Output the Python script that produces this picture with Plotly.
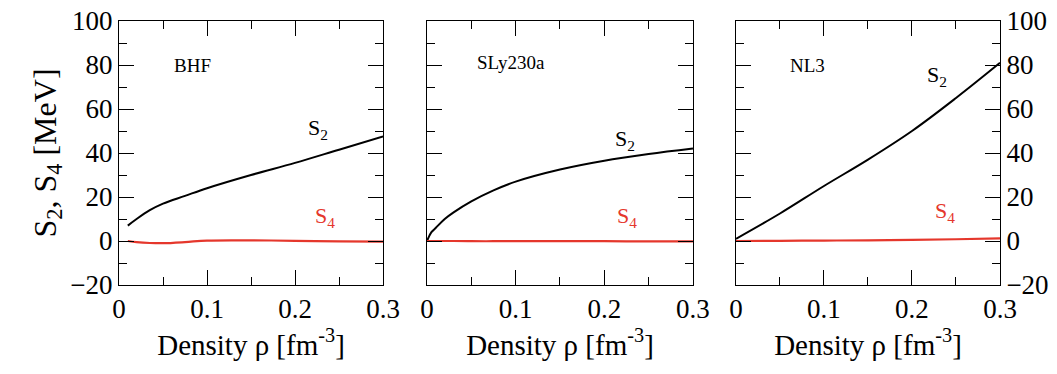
import plotly.graph_objects as go

# ---- data ----
bhf_rho = [0.01, 0.02, 0.035, 0.05, 0.075, 0.1, 0.15, 0.2, 0.25, 0.3]
bhf_s2 = [7.0, 10.0, 14.0, 17.0, 20.5, 24.0, 30.0, 35.5, 41.5, 47.5]
bhf_s4 = [0.0, -0.5, -0.9, -1.0, -0.5, 0.2, 0.3, 0.1, -0.2, -0.3]

sly_rho = [0.0, 0.005, 0.01, 0.02, 0.03, 0.05, 0.075, 0.1, 0.15, 0.2, 0.25, 0.3]
sly_s2 = [0.0, 4.0, 6.0, 10.0, 13.0, 18.0, 23.0, 27.0, 32.5, 36.5, 39.5, 42.0]
sly_s4 = [0.0, 0.0, 0.0, 0.0, 0.0, -0.1, -0.1, -0.1, -0.1, -0.1, -0.2, -0.2]

nl3_rho = [0.0, 0.05, 0.1, 0.15, 0.2, 0.25, 0.3]
nl3_s2 = [1.0, 12.5, 25.0, 37.0, 50.0, 65.0, 81.0]
nl3_s4 = [0.0, 0.1, 0.2, 0.3, 0.5, 0.8, 1.2]

panel_names = ["BHF", "SLy230a", "NL3"]

panels = [(bhf_rho, bhf_s2, bhf_s4), (sly_rho, sly_s2, sly_s4), (nl3_rho, nl3_s2, nl3_s4)]
s2_label_pos = [(0.213, 51), (0.21, 46), (0.215, 75)]
s4_label_pos = [(0.22, 11), (0.212, 11), (0.224, 13)]
name_pos = [(0.06, 80), (0.054, 81), (0.059, 80)]

FONT = "Liberation Serif"
BLACK = "#000000"
RED = "#e5372c"

fig = go.Figure()
domains = [[0.0, 0.2997], [0.3496, 0.6515], [0.7003, 1.0]]

for i, (rho, s2, s4) in enumerate(panels):
    xa = "x" if i == 0 else f"x{i+1}"
    ya = "y" if i == 0 else f"y{i+1}"
    fig.add_trace(go.Scatter(x=rho, y=s2, mode="lines", line=dict(color=BLACK, width=2, shape="spline"),
                             xaxis=xa, yaxis=ya, showlegend=False))
    fig.add_trace(go.Scatter(x=rho, y=s4, mode="lines", line=dict(color=RED, width=2.2, shape="spline"),
                             xaxis=xa, yaxis=ya, showlegend=False))
    fig.add_annotation(x=name_pos[i][0], y=name_pos[i][1], xref=xa, yref=ya, text=panel_names[i],
                       showarrow=False, xanchor="left", yanchor="middle",
                       font=dict(family=FONT, size=19, color=BLACK))
    fig.add_annotation(x=s2_label_pos[i][0], y=s2_label_pos[i][1], xref=xa, yref=ya,
                       text="S<sub>2</sub>", showarrow=False, xanchor="left", yanchor="middle",
                       font=dict(family=FONT, size=22, color=BLACK))
    fig.add_annotation(x=s4_label_pos[i][0], y=s4_label_pos[i][1], xref=xa, yref=ya,
                       text="S<sub>4</sub>", showarrow=False, xanchor="left", yanchor="middle",
                       font=dict(family=FONT, size=22, color=RED))

    xkey = "xaxis" if i == 0 else f"xaxis{i+1}"
    ykey = "yaxis" if i == 0 else f"yaxis{i+1}"
    xd = dict(
        domain=domains[i], range=[0, 0.3], anchor=ya, automargin=False,
        tick0=0, dtick=0.1, ticks="inside", ticklen=15,
        tickcolor=BLACK, showline=True, linecolor=BLACK, mirror="allticks",
        showgrid=False, zeroline=False, ticklabeloverflow="allow",
        minor=dict(ticks="inside", ticklen=8, tickcolor=BLACK, dtick=0.05, tick0=0, showgrid=False),
        tickfont=dict(family=FONT, size=27, color=BLACK),
        title=dict(text="Density ρ [fm<sup>-3</sup>]", font=dict(family=FONT, size=29, color=BLACK), standoff=4),
    )
    yd = dict(
        range=[-20, 100], anchor=xa, domain=[0, 1], automargin=False,
        tick0=0, dtick=20, ticks="inside", ticklen=15, tickcolor=BLACK,
        showline=True, linecolor=BLACK, mirror="allticks",
        showgrid=False, zeroline=False, ticklabeloverflow="allow",
        minor=dict(ticks="inside", ticklen=8, tickcolor=BLACK, dtick=10, tick0=0, showgrid=False),
        tickfont=dict(family=FONT, size=27, color=BLACK),
    )
    if i == 0:
        yd["title"] = dict(text="S<sub>2</sub>, S<sub>4</sub> [MeV]", font=dict(family=FONT, size=32, color=BLACK), standoff=4)
    elif i == 1:
        yd["showticklabels"] = False
    else:
        yd["side"] = "right"
    fig.layout[xkey] = xd
    fig.layout[ykey] = yd

fig.update_layout(
    width=1049, height=366,
    margin=dict(l=111, r=57, t=13, b=89),
    paper_bgcolor="white", plot_bgcolor="white",
)

fig.write_html("out.html")
